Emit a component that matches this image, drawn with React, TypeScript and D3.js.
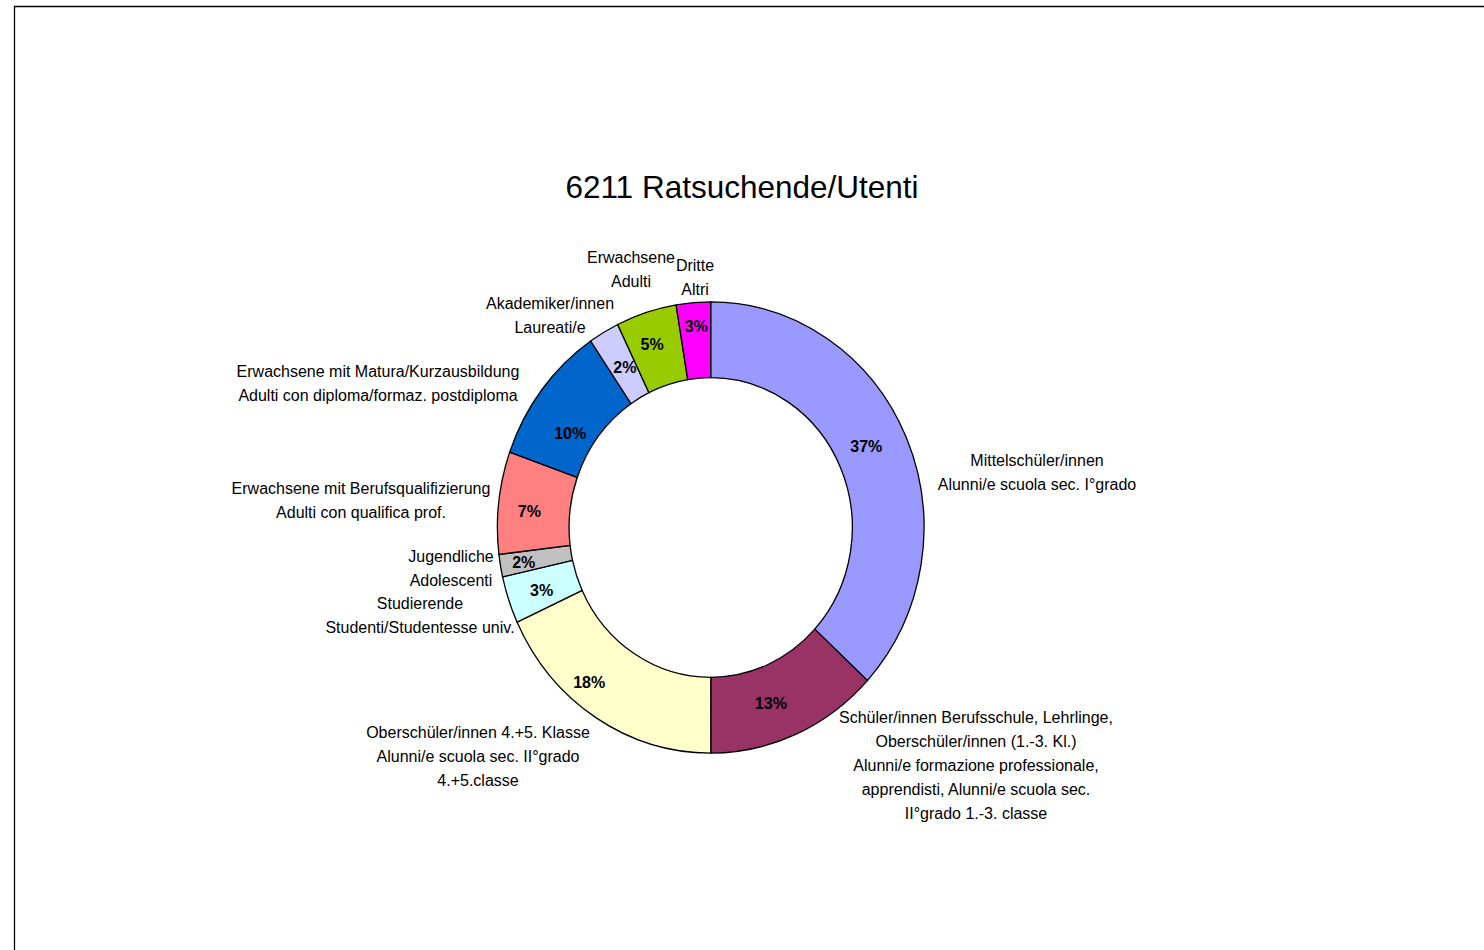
import React from "react";
import * as d3 from "d3";

// counts per group (total 6211), clockwise from 12 o'clock
const groups: string[] = [
  "Mittelschüler",
  "Berufsschule",
  "Oberschüler45",
  "Studierende",
  "Jugendliche",
  "Berufsqual",
  "Matura",
  "Akademiker",
  "Erwachsene",
  "Dritte",
];
const counts: number[] = [2290, 815, 1125, 210, 100, 455, 625, 145, 285, 161];
const colors: string[] = [
  "#9999FF",
  "#993366",
  "#FFFFCC",
  "#CCFFFF",
  "#C0C0C0",
  "#FF8080",
  "#0066CC",
  "#CCCCFF",
  "#99CC00",
  "#FF00FF",
];
const labelLines: string[][] = [
  ["Mittelschüler/innen", "Alunni/e scuola sec. I°grado"],
  [
    "Schüler/innen Berufsschule, Lehrlinge,",
    "Oberschüler/innen (1.-3. Kl.)",
    "Alunni/e formazione professionale,",
    "apprendisti, Alunni/e scuola sec.",
    "II°grado 1.-3. classe",
  ],
  ["Oberschüler/innen 4.+5. Klasse", "Alunni/e scuola sec. II°grado", "4.+5.classe"],
  ["Studierende", "Studenti/Studentesse univ."],
  ["Jugendliche", "Adolescenti"],
  ["Erwachsene mit Berufsqualifizierung", "Adulti con qualifica prof."],
  ["Erwachsene mit Matura/Kurzausbildung", "Adulti con diploma/formaz. postdiploma"],
  ["Akademiker/innen", "Laureati/e"],
  ["Erwachsene", "Adulti"],
  ["Dritte", "Altri"],
];
const title = "6211 Ratsuchende/Utenti";

// label layout (center x, first baseline y)
const labelPos: [number, number][] = [
  [1037, 466],
  [976, 723],
  [478, 738],
  [420, 609],
  [451, 562],
  [361, 494],
  [378, 377],
  [550, 309],
  [631, 263],
  [695, 271],
];
// nudges of the percent labels away from the arc centroid (like Excel does)
const pctNudge: [number, number][] = [
  [-7, -6],
  [-11, 4],
  [-26, -4],
  [-1, 2],
  [-12, 3],
  [-5, 4],
  [0, 20],
  [3, 2],
  [-5, -5],
  [0, -14],
];

const W = 1484;
const H = 950;
const cx = 710.7;
const cy = 527.5;
const rOuter = 225.6;
const rInner = 149.8;
const sx = 0.9455; // the pie is slightly squeezed horizontally

export default function App() {
  const total = d3.sum(counts);
  const pie = d3
    .pie<number>()
    .sort(null)
    .value((d) => d);
  const arcs = pie(counts);
  const arc = d3
    .arc<d3.PieArcDatum<number>>()
    .innerRadius(rInner)
    .outerRadius(rOuter);
  const fmt = (v: number) => Math.round((v / total) * 100) + "%";

  return (
    <div style={{ position: "absolute", left: 0, top: 0 }}>
      <svg width={W} height={H} style={{ display: "block" }} fontFamily="'Liberation Sans', Arial, sans-serif">
        <rect x={0} y={0} width={W} height={H} fill="#fff" />
        <path d={`M14.5,${H} V6.5 H${W}`} fill="none" stroke="#000" strokeWidth={1.3} />
        <text x={742} y={198} textAnchor="middle" fontSize={31.5} fill="#000">
          {title}
        </text>
        <g transform={`translate(${cx},${cy}) scale(${sx},1)`}>
          {arcs.map((a, i) => (
            <path
              key={groups[i]}
              d={arc(a) || ""}
              fill={colors[i]}
              stroke="#000"
              strokeWidth={1.3}
              vectorEffect="non-scaling-stroke"
            />
          ))}
        </g>
        <g fontWeight="bold" fontSize={16} textAnchor="middle" fill="#000">
          {arcs.map((a, i) => {
            const [x, y] = arc.centroid(a);
            return (
              <text key={groups[i]} x={cx + x * sx + pctNudge[i][0]} y={cy + y + 6 + pctNudge[i][1]}>
                {fmt(counts[i])}
              </text>
            );
          })}
        </g>
        <g fontSize={16} textAnchor="middle" fill="#000">
          {labelLines.map((lines, i) => (
            <text key={groups[i]} x={labelPos[i][0]} y={labelPos[i][1]}>
              {lines.map((l, j) => (
                <tspan key={j} x={labelPos[i][0]} y={labelPos[i][1] + j * 24}>
                  {l}
                </tspan>
              ))}
            </text>
          ))}
        </g>
      </svg>
    </div>
  );
}
